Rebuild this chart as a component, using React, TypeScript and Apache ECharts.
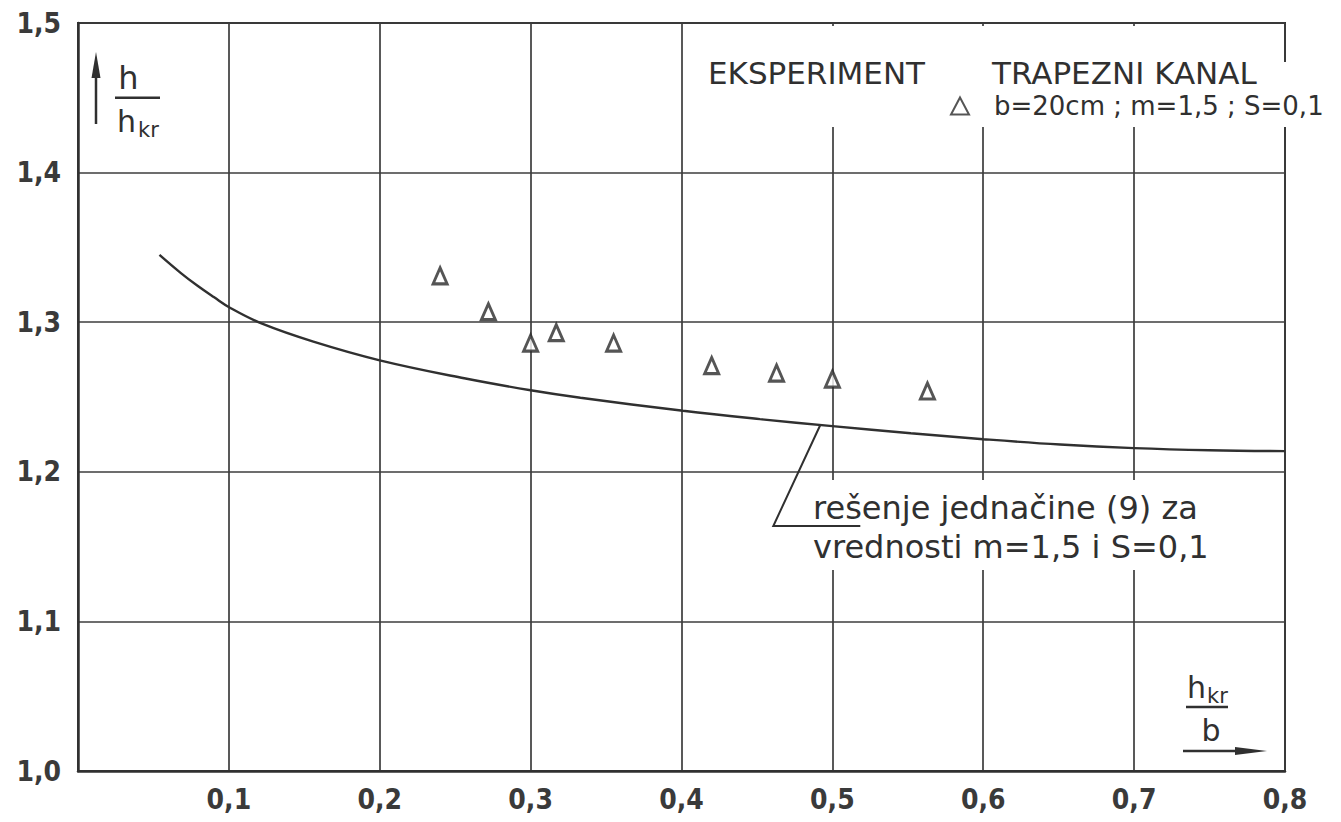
import React, { useEffect, useRef } from "react";
import * as echarts from "echarts";

// Theoretical curve: solution of equation (9) for m = 1.5, S = 0.1
const curveX = [0.054, 0.068, 0.079, 0.09, 0.101, 0.122, 0.156, 0.2, 0.256, 0.3, 0.333, 0.401, 0.452, 0.5, 0.552, 0.6, 0.651, 0.7, 0.75, 0.8];
const curveY = [1.345, 1.333, 1.3245, 1.3168, 1.3095, 1.299, 1.287, 1.2745, 1.2625, 1.2545, 1.2495, 1.2408, 1.2352, 1.2305, 1.2258, 1.2218, 1.2182, 1.2158, 1.2144, 1.2138];

// Measurements in the trapezoidal channel
const pointX = [0.24, 0.272, 0.3, 0.317, 0.355, 0.42, 0.463, 0.5, 0.563];
const pointY = [1.331, 1.307, 1.286, 1.293, 1.286, 1.271, 1.266, 1.262, 1.254];

const seriesCurve = "rešenje jednačine (9)";
const seriesPoints = "b=20cm ; m=1,5 ; S=0,1";
const headingLeft = "EKSPERIMENT";
const headingRight = "TRAPEZNI KANAL";
const noteLines = ["rešenje jednačine (9) za", "vrednosti m=1,5 i S=0,1"];
const leaderAtX = 0.492;

const INK = "#303030";
const SANS = '"DejaVu Sans", sans-serif';
const COND = '"DejaVu Sans Condensed", "DejaVu Sans", sans-serif';

const decimalComma = (v: number) => v.toFixed(1).replace(".", ",");

function curveAt(x: number): number {
  for (let i = 1; i < curveX.length; i++) {
    if (x <= curveX[i]) {
      const t = (x - curveX[i - 1]) / (curveX[i] - curveX[i - 1]);
      return curveY[i - 1] + t * (curveY[i] - curveY[i - 1]);
    }
  }
  return curveY[curveY.length - 1];
}

function txt(id: string, text: string, x: number, baseline: number, fontSize: number, align = "left", family = SANS) {
  return {
    id,
    type: "text",
    z: 10,
    x,
    y: baseline - 0.32 * fontSize,
    style: {
      text,
      fill: INK,
      font: `${fontSize}px ${family}`,
      align,
      verticalAlign: "middle",
    },
  };
}

export default function App() {
  const ref = useRef<HTMLDivElement>(null);

  useEffect(() => {
    const chart = echarts.init(ref.current!, null, { renderer: "svg" });

    const graphic: any[] = [
      // paper left blank behind the legend block and the note
      { id: "maskLegend", type: "rect", z: 1, shape: { x: 700, y: 26, width: 575, height: 101 }, style: { fill: "#fff" } },
      { id: "maskLegendEdge", type: "rect", z: 1, shape: { x: 1275, y: 62, width: 66, height: 65 }, style: { fill: "#fff" } },
      { id: "maskNote", type: "rect", z: 1, shape: { x: 805, y: 480, width: 410, height: 90 }, style: { fill: "#fff" } },

      // y-axis quantity h / h_kr with arrow
      { id: "yShaft", type: "line", z: 10, shape: { x1: 96, y1: 124, x2: 96, y2: 72 }, style: { stroke: INK, lineWidth: 2.5 } },
      { id: "yHead", type: "polygon", z: 10, shape: { points: [[91.5, 78], [100.5, 78], [96, 52]] }, style: { fill: INK } },
      txt("yNum", "h", 128.5, 88, 32, "center"),
      { id: "yBar", type: "line", z: 10, shape: { x1: 115, y1: 97.7, x2: 160, y2: 97.7 }, style: { stroke: INK, lineWidth: 2.5 } },
      txt("yDen", "h", 117, 131, 30),
      txt("yDenSub", "kr", 138, 137, 21),

      // x-axis quantity h_kr / b with arrow
      txt("xNum", "h", 1187, 697, 30),
      txt("xNumSub", "kr", 1207, 703, 21),
      { id: "xBar", type: "line", z: 10, shape: { x1: 1186, y1: 707, x2: 1228, y2: 707 }, style: { stroke: INK, lineWidth: 2.5 } },
      txt("xDen", "b", 1211, 740, 30, "center"),
      { id: "xShaft", type: "line", z: 10, shape: { x1: 1183, y1: 751, x2: 1240, y2: 751 }, style: { stroke: INK, lineWidth: 2.5 } },
      { id: "xHead", type: "polygon", z: 10, shape: { points: [[1235, 747], [1235, 755], [1267, 751]] }, style: { fill: INK } },

      // legend headings
      txt("headL", headingLeft, 708, 82.5, 31),
      txt("headR", headingRight, 992, 83, 31),

      // note on the curve
      txt("note1", noteLines[0], 813, 518, 32),
      txt("note2", noteLines[1], 813, 557, 32),
    ];

    const option: any = {
      animation: false,
      backgroundColor: "#ffffff",
      grid: {
        left: 78,
        right: 56,
        top: 23,
        bottom: 51,
        show: true,
        borderColor: INK,
        borderWidth: 2,
        backgroundColor: "transparent",
      },
      legend: {
        data: [seriesPoints],
        left: 945,
        top: 88,
        itemWidth: 18,
        itemHeight: 17,
        selectedMode: false,
        textStyle: { fontFamily: SANS, fontSize: 26, color: INK, padding: [0, 0, 0, 20] },
      },
      xAxis: {
        type: "value",
        min: 0,
        max: 0.8,
        interval: 0.1,
        axisLine: { show: true, onZero: false, lineStyle: { color: INK, width: 2.5 } },
        axisTick: { show: false },
        axisLabel: {
          margin: 14,
          fontFamily: COND,
          fontWeight: "bold",
          fontSize: 28,
          color: "#3a3a3a",
          formatter: (v: number) => (v === 0 ? "" : decimalComma(v)),
        },
        splitLine: { show: true, lineStyle: { color: "#3c3c3c", width: 1.7 } },
      },
      yAxis: {
        type: "value",
        min: 1.0,
        max: 1.5,
        interval: 0.1,
        axisLine: { show: true, onZero: false, lineStyle: { color: INK, width: 2.5 } },
        axisTick: { show: false },
        axisLabel: {
          margin: 17,
          fontFamily: COND,
          fontWeight: "bold",
          fontSize: 28,
          color: "#3a3a3a",
          formatter: (v: number) => decimalComma(v),
        },
        splitLine: { show: true, lineStyle: { color: "#3c3c3c", width: 1.7 } },
      },
      series: [
        {
          name: seriesCurve,
          type: "line",
          z: 3,
          smooth: 0.4,
          showSymbol: false,
          lineStyle: { color: INK, width: 2.4 },
          data: curveX.map((x, i) => [x, curveY[i]]),
        },
        {
          name: seriesPoints,
          type: "scatter",
          z: 4,
          symbol: "triangle",
          symbolSize: [14, 16],
          itemStyle: { color: "#ffffff", borderColor: "#2a2a2a", borderWidth: 3 },
          data: pointX.map((x, i) => [x, pointY[i]]),
        },
      ],
      graphic,
    };

    chart.setOption(option);

    // leader from the curve down to the underlined note
    const p = chart.convertToPixel({ gridIndex: 0 }, [leaderAtX, curveAt(leaderAtX)]) as number[];
    chart.setOption({
      graphic: [
        {
          id: "leader",
          type: "polyline",
          z: 10,
          shape: { points: [[p[0], p[1]], [p[0] - 47, p[1] + 101], [p[0] + 40, p[1] + 101]] },
          style: { stroke: INK, lineWidth: 2, fill: "none" },
        },
      ],
    });

    return () => chart.dispose();
  }, []);

  return <div ref={ref} style={{ position: "absolute", left: 0, top: 0, width: 1341, height: 822 }} />;
}
